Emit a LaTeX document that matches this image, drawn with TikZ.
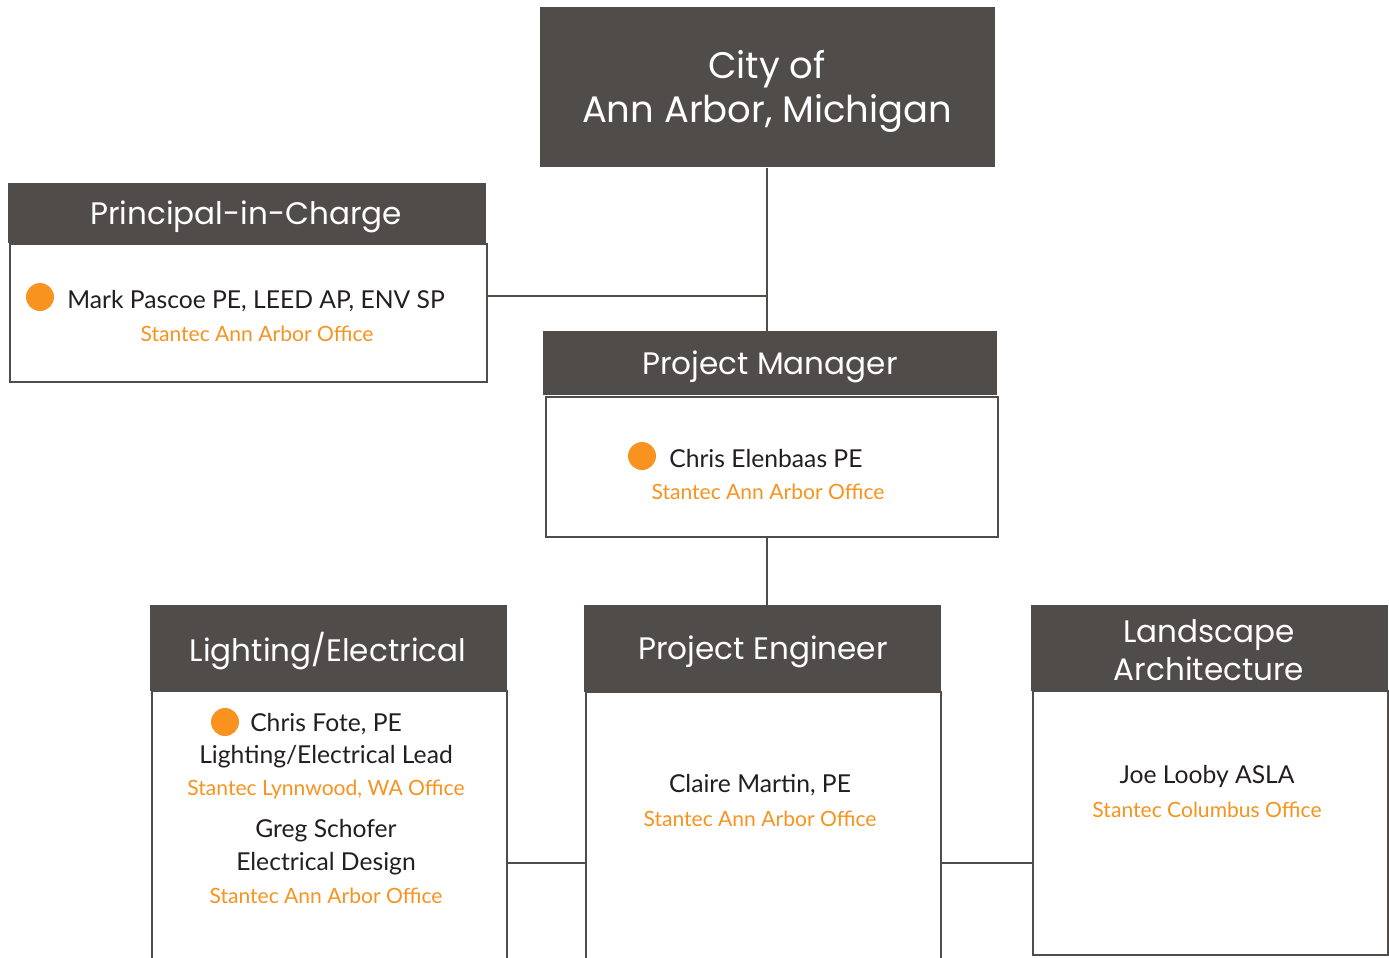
\documentclass[tikz,border=0pt]{standalone}
\usepackage{fontspec}
\setmainfont{Lato}
\newfontfamily\headfont{Poppins}
\definecolor{hdr}{HTML}{504C4A}
\definecolor{org}{HTML}{F7931E}
\definecolor{txt}{HTML}{231F20}
\tikzset{
 hdrbox/.style={fill=hdr, draw=none, inner sep=0, anchor=north west},
 hdrtext/.style={text=white, inner sep=0, align=center, font=\headfont\fontsize{23.3}{28.5}\selectfont},
 bodybox/.style={draw=hdr, line width=1.6pt, fill=white, inner sep=0, anchor=north west},
 nm/.style={text=txt, inner sep=0, font=\fontsize{18.5}{20}\selectfont},
 off/.style={text=org, inner sep=0, font=\fontsize{15.8}{19}\selectfont},
 dot/.style={circle, fill=org, minimum size=21pt, inner sep=0},
 conn/.style={draw=hdr, line width=1.1pt}
}
\begin{document}
\begin{tikzpicture}[x=0.75pt,y=-0.75pt]
\clip (0,0) rectangle (1389,957);
\fill[white] (0,0) rectangle (1389,957);
% City
\node[hdrbox, minimum width=341.25pt, minimum height=120pt] (city) at (540,7) {};
\node[hdrtext, font=\headfont\fontsize{27.7}{33}\selectfont] (citytx) at (767,91) {City of\\Ann Arbor, Michigan};
% Principal
\node[bodybox, minimum width=357.75pt, minimum height=103.5pt] (pcb) at (8.5,243) {};
\node[hdrbox, minimum width=358.5pt, minimum height=45pt] (pch) at (7.5,183) {};
\node[hdrtext] (pcht) at (246,217) {Principal-in-Charge};
\node[dot] (pcd) at (40,297) {};
\node[nm, anchor=west] (pcn) at (67,301) {Mark Pascoe PE, LEED AP, ENV SP};
\node[off] (pco) at (257,334) {Stantec Ann Arbor Office};
% Project manager
\node[bodybox, minimum width=339pt, minimum height=105pt] (pmb) at (545,396) {};
\node[hdrbox, minimum width=340.5pt, minimum height=48pt] (pmh) at (543,331) {};
\node[hdrtext] (pmht) at (770,367) {Project Manager};
\node[dot] (pmd) at (642,456) {};
\node[nm, anchor=west] (pmn) at (669,459) {Chris Elenbaas PE};
\node[off] (pmo) at (768,492) {Stantec Ann Arbor Office};
% Lighting
\node[bodybox, minimum width=266pt, minimum height=220pt] (leb) at (151,690) {};
\node[hdrbox, minimum width=267.75pt, minimum height=64.5pt] (leh) at (150,605) {};
\node[hdrtext] (leht) at (328,651) {Lighting/Electrical};
\node[dot] (led) at (225,722) {};
\node[nm, anchor=west] (len1) at (250,724) {Chris Fote, PE};
\node[nm] (len2) at (326,757) {Lighting/Electrical Lead};
\node[off] (leo1) at (326,790) {Stantec Lynnwood, WA Office};
\node[nm] (len3) at (326,831) {Greg Schofer};
\node[nm] (len4) at (326,864) {Electrical Design};
\node[off] (leo2) at (326,896) {Stantec Ann Arbor Office};
% Project engineer
\node[bodybox, minimum width=266pt, minimum height=220pt] (peb) at (585,691) {};
\node[hdrbox, minimum width=267.75pt, minimum height=65pt] (peh) at (584,605) {};
\node[hdrtext] (peht) at (763,652) {Project Engineer};
\node[nm] (pen) at (760,785) {Claire Martin, PE};
\node[off] (peo) at (760,819) {Stantec Ann Arbor Office};
% Landscape
\node[bodybox, minimum width=266pt, minimum height=198pt] (lab) at (1032,690) {};
\node[hdrbox, minimum width=267.75pt, minimum height=64pt] (lah) at (1031,605) {};
\node[hdrtext] (laht) at (1209,650) {Landscape\\Architecture};
\node[nm] (lan) at (1207,777) {Joe Looby ASLA};
\node[off] (lao) at (1207,810) {Stantec Columbus Office};
% connectors
\coordinate (j1) at (767,296);
\coordinate (j2) at (545,863);
\coordinate (j3) at (985,863);
\draw[conn] (city.south -| j1) -- (pmh.north -| j1);
\draw[conn] (pcb.east |- j1) -- (j1);
\draw[conn] (pmb.south -| j1) -- (peh.north -| j1);
\draw[conn] (leb.east |- j2) -- (peb.west |- j2);
\draw[conn] (peb.east |- j3) -- (lab.west |- j3);
\end{tikzpicture}
\end{document}
